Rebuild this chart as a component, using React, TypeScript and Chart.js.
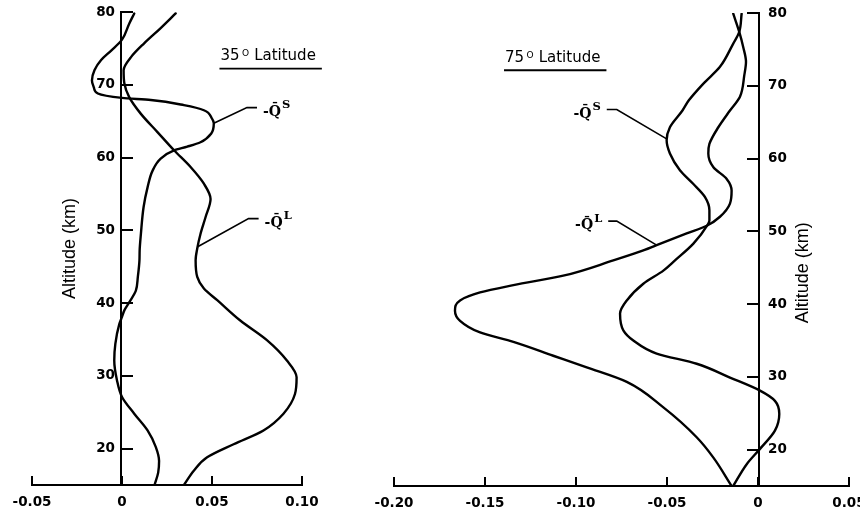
import React, { useEffect, useRef } from 'react';
import { Chart, registerables } from 'chart.js';

Chart.register(...registerables);

// ---------------- data (altitude in km, heating values) ----------------
const alt35S = [79.8, 78.4, 76.2, 74.7, 73.4, 72.0, 70.6, 69.6, 68.8, 68.2, 67.9, 67.2, 66.5, 65.35, 64.7, 63.3, 62.1, 61.5, 61.0, 59.85, 58.2, 55.9, 53.2, 49.5, 47.2, 45.9, 43.6, 41.7, 40.1, 39.0, 38.1, 37.1, 34.4, 32.1, 29.4, 27.1, 24.8, 22.5, 20.2, 18.3, 16.7, 15.1];
const q35S = [0.0068, 0.004, 0.0, -0.006, -0.0116, -0.0153, -0.0167, -0.0156, -0.0134, 0.0, 0.016, 0.0344, 0.0455, 0.05, 0.051, 0.0496, 0.0436, 0.0363, 0.0289, 0.0215, 0.017, 0.0142, 0.012, 0.0105, 0.0098, 0.0097, 0.0088, 0.0077, 0.004, 0.0013, 0.0, -0.0015, -0.0037, -0.0043, -0.0028, 0.0, 0.0068, 0.0142, 0.0188, 0.0206, 0.0201, 0.0182];

const alt35L = [79.8, 77.8, 75.7, 73.8, 72.0, 70.2, 68.3, 66.0, 63.5, 61.0, 58.7, 56.4, 54.3, 51.8, 49.5, 47.5, 45.9, 43.6, 42.0, 40.4, 37.6, 34.9, 32.1, 29.8, 27.5, 24.8, 22.5, 20.6, 18.8, 17.0, 15.0];
const q35L = [0.0298, 0.0215, 0.0123, 0.005, 0.0009, 0.0013, 0.004, 0.0105, 0.0197, 0.0289, 0.0381, 0.0455, 0.0492, 0.0464, 0.0436, 0.0418, 0.0409, 0.0418, 0.0455, 0.0529, 0.0657, 0.0805, 0.0916, 0.097, 0.0961, 0.0897, 0.0786, 0.062, 0.0473, 0.04, 0.0344];

const alt75S = [79.9, 77.4, 75.8, 72.6, 70.3, 68.0, 66.6, 64.3, 62.5, 60.7, 58.4, 56.5, 54.7, 52.9, 51.5, 50.8, 48.3, 46.0, 44.6, 42.8, 40.5, 38.7, 36.4, 35.0, 33.2, 31.8, 29.9, 28.1, 26.7, 24.9, 22.6, 20.1, 18.0, 15.0];
const q75S = [-0.009, -0.0103, -0.0136, -0.0209, -0.03, -0.038, -0.0415, -0.0484, -0.0502, -0.0484, -0.0429, -0.0355, -0.0291, -0.0267, -0.0267, -0.0279, -0.0355, -0.0456, -0.052, -0.063, -0.0721, -0.0758, -0.074, -0.0685, -0.0557, -0.0337, -0.0154, 0.0011, 0.0093, 0.0117, 0.0093, 0.0011, -0.0062, -0.0136];

const alt75L = [79.9, 77.4, 75.3, 73.3, 71.5, 68.5, 66.6, 64.3, 62.0, 60.7, 58.8, 57.2, 55.6, 53.8, 52.0, 50.8, 49.7, 48.1, 47.2, 46.0, 43.9, 42.6, 41.6, 40.5, 39.1, 37.7, 36.1, 34.8, 32.9, 31.3, 29.3, 25.8, 21.7, 18.9, 15.0];
const q75L = [-0.0136, -0.0103, -0.0081, -0.0066, -0.0075, -0.0099, -0.0154, -0.0218, -0.0267, -0.0273, -0.0245, -0.0172, -0.0145, -0.0154, -0.0209, -0.0279, -0.0392, -0.0557, -0.065, -0.0795, -0.107, -0.1344, -0.1527, -0.1637, -0.1665, -0.1637, -0.1527, -0.1344, -0.1125, -0.0941, -0.0721, -0.052, -0.0337, -0.0245, -0.0145];

const altTicks = [20, 30, 40, 50, 60, 70, 80];
const altTickLabels = ['20', '30', '40', '50', '60', '70', '80'];
const xTicks35 = [-0.05, 0, 0.05, 0.1];
const xTickLabels35 = ['-0.05', '0', '0.05', '0.10'];
const xTicks75 = [-0.2, -0.15, -0.1, -0.05, 0, 0.05];
const xTickLabels75 = ['-0.20', '-0.15', '-0.10', '-0.05', '0', '0.05'];
const seriesSups = ['S', 'L'];
const axisTitle = 'Altitude (km)';

// ---------------- styling / layout ----------------
const H = 517;
const TICK_FONT = { family: '"DejaVu Sans", sans-serif', size: 13.5, weight: 'bold' as const };
const TITLE_FONT_FAMILY = '"Liberation Sans", Arial, sans-serif';

const toPoints = (alts: number[], vals: number[]) => alts.map((a, i) => ({ x: vals[i], y: a }));

const zeroPad = (s: any) => {
  s.paddingLeft = 0;
  s.paddingRight = 0;
  s.paddingTop = 0;
  s.paddingBottom = 0;
};

type Label = { curve: [number, number]; elbow: [number, number]; end: [number, number]; sup: string; side: 'left' | 'right' };
type TextCfg = {
  title: { v: number; alt: number; num: string };
  labels: Label[];
  axisTitle?: { v: number; alt: number };
};

function makeTextPlugin(t: TextCfg) {
  return {
    id: 'panelText',
    afterDraw(chart: any) {
      const ctx: CanvasRenderingContext2D = chart.ctx;
      const xs = chart.scales.x;
      const ys = chart.scales.y;
      const px = (v: number) => xs.getPixelForValue(v);
      const py = (a: number) => ys.getPixelForValue(a);
      ctx.save();
      ctx.fillStyle = '#000';
      ctx.strokeStyle = '#000';
      ctx.textAlign = 'left';
      ctx.textBaseline = 'alphabetic';

      // panel title "NN° Latitude" underlined
      const base = py(t.title.alt);
      const x0 = px(t.title.v);
      let x = x0;
      ctx.font = '15px "DejaVu Sans", sans-serif';
      ctx.fillText(t.title.num, x, base);
      x += ctx.measureText(t.title.num).width + 2.5;
      ctx.font = '9px "DejaVu Sans", sans-serif';
      ctx.fillText('O', x, base - 4);
      x += ctx.measureText('O').width + 5;
      ctx.font = '15px "DejaVu Sans", sans-serif';
      ctx.fillText('Latitude', x, base);
      x += ctx.measureText('Latitude').width;
      ctx.lineWidth = 1.8;
      ctx.beginPath();
      ctx.moveTo(x0 - 1, base + 8.5);
      ctx.lineTo(x + 6, base + 8.5);
      ctx.stroke();

      // curve labels with leader lines
      for (const lb of t.labels) {
        const cx = px(lb.curve[0]);
        const cy = py(lb.curve[1]);
        const ex = px(lb.elbow[0]);
        const ey = py(lb.elbow[1]);
        const fx = px(lb.end[0]);
        ctx.lineWidth = 1.6;
        ctx.beginPath();
        ctx.moveTo(cx, cy);
        ctx.lineTo(ex, ey);
        ctx.lineTo(fx, ey);
        ctx.stroke();
        const main = '-Q\u0304';
        ctx.font = 'bold 14px "DejaVu Serif", serif';
        const wMain = ctx.measureText(main).width;
        ctx.font = 'bold 11.5px "DejaVu Serif", serif';
        const wSup = ctx.measureText(lb.sup).width;
        const total = wMain + 1 + wSup;
        const tx = lb.side === 'right' ? fx + 6 : fx - 6 - total;
        ctx.font = 'bold 14px "DejaVu Serif", serif';
        ctx.fillText(main, tx, ey + 8);
        ctx.font = 'bold 11.5px "DejaVu Serif", serif';
        ctx.fillText(lb.sup, tx + wMain + 1, ey + 0.5);
      }

      // rotated axis title (reads bottom to top)
      if (t.axisTitle) {
        ctx.save();
        ctx.translate(px(t.axisTitle.v), py(t.axisTitle.alt));
        ctx.rotate(-Math.PI / 2);
        ctx.font = `18px ${TITLE_FONT_FAMILY}`;
        ctx.textAlign = 'center';
        ctx.textBaseline = 'middle';
        ctx.fillText(axisTitle, 0, 0);
        ctx.restore();
      }
      ctx.restore();
    },
  };
}

type PanelCfg = {
  left: number;
  w: number;
  xMin: number;
  xMax: number;
  xTicks: number[];
  xLabels: string[];
  padA: { left: number; right: number; top: number; bottom: number };
  padB: { left: number; right: number; top: number; bottom: number };
  yPos: 'left' | 'right';
  yWidth: number;
  yPadding: number;
  yTitle: boolean;
  series: { alts: number[]; vals: number[] }[];
  text: TextCfg;
};

function configA(c: PanelCfg): any {
  return {
    type: 'line',
    data: {
      datasets: c.series.map((s, i) => ({
        label: '-Q' + seriesSups[i],
        data: toPoints(s.alts, s.vals),
        borderColor: '#000',
        backgroundColor: '#000',
        borderWidth: 2.4,
        pointRadius: 0,
        fill: false,
        tension: 0.4,
        cubicInterpolationMode: 'monotone',
        borderJoinStyle: 'round',
        borderCapStyle: 'round',
      })),
    },
    options: {
      animation: false,
      responsive: false,
      indexAxis: 'y',
      layout: { padding: c.padA },
      plugins: { legend: { display: false }, tooltip: { enabled: false }, title: { display: false } },
      scales: {
        x: {
          type: 'linear',
          position: 'bottom',
          min: c.xMin,
          max: c.xMax,
          afterBuildTicks: (s: any) => {
            s.ticks = c.xTicks.map((v) => ({ value: v }));
          },
          afterFit: (s: any) => {
            s.height = 30;
            zeroPad(s);
          },
          grid: { drawOnChartArea: false, drawTicks: true, tickLength: -9, color: '#000', lineWidth: 2 },
          border: { display: true, color: '#000', width: 2 },
          ticks: {
            padding: 18,
            color: '#000',
            font: TICK_FONT,
            maxRotation: 0,
            autoSkip: false,
            callback: (_v: any, i: number) => c.xLabels[i],
          },
        },
        y: {
          type: 'linear',
          min: 15,
          max: 80,
          display: false,
          afterFit: zeroPad,
        },
      },
    },
    plugins: [makeTextPlugin(c.text)],
  };
}

function configB(c: PanelCfg): any {
  return {
    type: 'line',
    data: { datasets: [] },
    options: {
      animation: false,
      responsive: false,
      layout: { padding: c.padB },
      plugins: { legend: { display: false }, tooltip: { enabled: false }, title: { display: false } },
      scales: {
        x: { type: 'linear', display: false, min: c.xMin, max: c.xMax },
        y: {
          type: 'linear',
          position: c.yPos,
          min: 15,
          max: 80,
          afterBuildTicks: (s: any) => {
            s.ticks = altTicks.map((v) => ({ value: v }));
          },
          afterFit: (s: any) => {
            s.width = c.yWidth;
            zeroPad(s);
          },
          grid: { drawOnChartArea: false, drawTicks: true, tickLength: -12, color: '#000', lineWidth: 2 },
          border: { display: true, color: '#000', width: 2 },
          ticks: {
            padding: c.yPadding,
            color: '#000',
            font: TICK_FONT,
            autoSkip: false,
            callback: (_v: any, i: number) => altTickLabels[i],
          },
          title: c.yTitle
            ? {
                display: true,
                text: axisTitle,
                color: '#000',
                font: { family: TITLE_FONT_FAMILY, size: 18 },
                padding: { top: 0, bottom: 0 },
              }
            : { display: false },
        },
      },
    },
  };
}

const panel35: PanelCfg = {
  left: 0,
  w: 400,
  xMin: -0.05,
  xMax: 0.1,
  xTicks: xTicks35,
  xLabels: xTickLabels35,
  padA: { left: 32, right: 98, top: 12, bottom: 2 },
  padB: { left: 59, right: 0, top: 12, bottom: 32 },
  yPos: 'left',
  yWidth: 62,
  yPadding: 18,
  yTitle: true,
  series: [
    { alts: alt35S, vals: q35S },
    { alts: alt35L, vals: q35L },
  ],
  text: {
    title: { v: 0.0547, alt: 73.4, num: '35' },
    labels: [
      { curve: [0.051, 64.7], elbow: [0.0694, 66.86], end: [0.075, 66.86], sup: seriesSups[0], side: 'right' },
      { curve: [0.0418, 47.7], elbow: [0.0703, 51.6], end: [0.0759, 51.6], sup: seriesSups[1], side: 'right' },
    ],
  },
};

const panel75: PanelCfg = {
  left: 340,
  w: 540,
  xMin: -0.2,
  xMax: 0.05,
  xTicks: xTicks75,
  xLabels: xTickLabels75,
  padA: { left: 54, right: 31, top: 13, bottom: 1 },
  padB: { left: 0, right: 81, top: 13, bottom: 31 },
  yPos: 'right',
  yWidth: 40,
  yPadding: 21,
  yTitle: false,
  series: [
    { alts: alt75S, vals: q75S },
    { alts: alt75L, vals: q75L },
  ],
  text: {
    title: { v: -0.139, alt: 73.3, num: '75' },
    labels: [
      { curve: [-0.0502, 62.7], elbow: [-0.0776, 66.73], end: [-0.0831, 66.73], sup: seriesSups[0], side: 'left' },
      { curve: [-0.0557, 48.1], elbow: [-0.0776, 51.4], end: [-0.0823, 51.4], sup: seriesSups[1], side: 'left' },
    ],
    axisTitle: { v: 0.0247, alt: 44.3 },
  },
};

function Panel({ cfg }: { cfg: PanelCfg }) {
  const refA = useRef<HTMLCanvasElement>(null);
  const refB = useRef<HTMLCanvasElement>(null);
  useEffect(() => {
    const a = new Chart(refA.current as HTMLCanvasElement, configA(cfg));
    const b = new Chart(refB.current as HTMLCanvasElement, configB(cfg));
    return () => {
      a.destroy();
      b.destroy();
    };
  }, [cfg]);
  const style: React.CSSProperties = {
    position: 'absolute',
    left: cfg.left,
    top: 0,
    width: cfg.w,
    height: H,
  };
  return (
    <>
      <canvas ref={refA} width={cfg.w} height={H} style={style} />
      <canvas ref={refB} width={cfg.w} height={H} style={{ ...style, pointerEvents: 'none' }} />
    </>
  );
}

export default function App() {
  return (
    <div
      style={{
        position: 'absolute',
        left: 0,
        top: 0,
        width: 860,
        height: H,
        overflow: 'hidden',
        background: '#fff',
      }}
    >
      <Panel cfg={panel35} />
      <Panel cfg={panel75} />
    </div>
  );
}
